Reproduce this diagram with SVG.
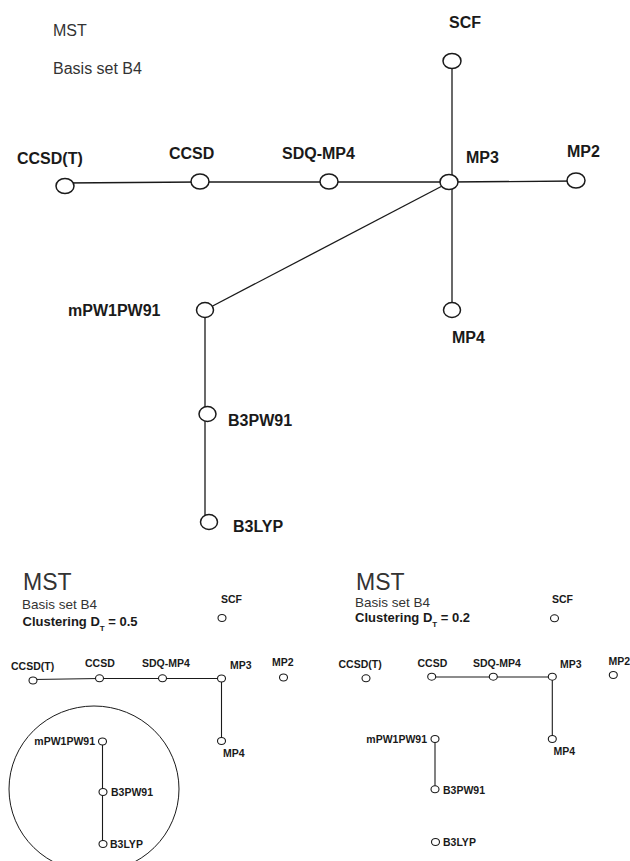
<svg xmlns="http://www.w3.org/2000/svg" width="630" height="861" viewBox="0 0 630 861">
<style>
  .bg{fill:#ffffff}
  .t{font-family:"Liberation Sans",Arial,sans-serif;fill:#333333}
  .b{font-family:"Liberation Sans",Arial,sans-serif;font-weight:bold;fill:#1a1a1a}
  .L{font-size:16px}
  .S{font-size:10.5px}
  .e{stroke:#1a1a1a;stroke-width:1.3;fill:none}
  .es{stroke:#1a1a1a;stroke-width:1.1;fill:none}
  .n{fill:#ffffff;stroke:#1a1a1a;stroke-width:1.5}
  .ns{fill:#ffffff;stroke:#1a1a1a;stroke-width:1.1}
  .cl{fill:none;stroke:#1a1a1a;stroke-width:1}
</style>
<rect class="bg" x="0" y="0" width="630" height="861"/>

<!-- ===== Top panel ===== -->
<g id="top-titles">
  <text class="t" x="53" y="36" font-size="16">MST</text>
  <text class="t" x="53" y="74" font-size="16">Basis set B4</text>
</g>
<g id="top-connectors">
  <line class="e" x1="64" y1="183" x2="200" y2="182"/>
  <line class="e" x1="200" y1="182" x2="329" y2="182"/>
  <line class="e" x1="329" y1="182" x2="449" y2="182"/>
  <line class="e" x1="449" y1="182" x2="576" y2="181"/>
  <line class="e" x1="452" y1="61" x2="452" y2="310"/>
  <line class="e" x1="446" y1="184" x2="205" y2="310"/>
  <line class="e" x1="205" y1="310" x2="205" y2="414"/>
  <line class="e" x1="205" y1="414" x2="205" y2="522"/>
</g>
<g id="top-n-scf"><ellipse class="n" cx="452" cy="61" rx="9" ry="7.5"/><text class="b L" x="449" y="28">SCF</text></g>
<g id="top-n-ccsdt"><ellipse class="n" cx="65" cy="186" rx="9" ry="7.5"/><text class="b L" x="17" y="164">CCSD(T)</text></g>
<g id="top-n-ccsd"><ellipse class="n" cx="200" cy="181.5" rx="9" ry="7.5"/><text class="b L" x="169" y="159">CCSD</text></g>
<g id="top-n-sdq"><ellipse class="n" cx="329" cy="181.5" rx="9" ry="7.5"/><text class="b L" x="282" y="159">SDQ-MP4</text></g>
<g id="top-n-mp3"><ellipse class="n" cx="449" cy="182" rx="9" ry="7.5"/><text class="b L" x="466" y="163">MP3</text></g>
<g id="top-n-mp2"><ellipse class="n" cx="576" cy="180.5" rx="9" ry="7.5"/><text class="b L" x="567" y="157">MP2</text></g>
<g id="top-n-mp4"><ellipse class="n" cx="452" cy="310" rx="8.5" ry="7.5"/><text class="b L" x="452" y="343">MP4</text></g>
<g id="top-n-mpw"><ellipse class="n" cx="205" cy="310" rx="8.5" ry="7.5"/><text class="b L" x="68" y="316">mPW1PW91</text></g>
<g id="top-n-b3pw"><ellipse class="n" cx="207.5" cy="414" rx="8.5" ry="7.5"/><text class="b L" x="228" y="426">B3PW91</text></g>
<g id="top-n-b3lyp"><ellipse class="n" cx="209" cy="522" rx="8.5" ry="7.5"/><text class="b L" x="233" y="532">B3LYP</text></g>

<!-- ===== Bottom-left panel ===== -->
<g id="bl-titles">
  <text class="t" x="23" y="590" font-size="23">MST</text>
  <text class="t" x="22" y="609" font-size="13.5">Basis set B4</text>
  <text class="b" x="22.5" y="625.5" font-size="13">Clustering D<tspan font-size="8" dy="5">T</tspan><tspan dy="-5"> = 0.5</tspan></text>
</g>
<g id="bl-connectors">
  <line class="es" x1="33" y1="679.5" x2="99.5" y2="678.5"/>
  <line class="es" x1="99.5" y1="678.5" x2="162.5" y2="678.5"/>
  <line class="es" x1="162.5" y1="678.5" x2="221.5" y2="678.5"/>
  <line class="es" x1="221.5" y1="678.5" x2="221.5" y2="741"/>
  <line class="es" x1="102.5" y1="741.5" x2="102.5" y2="844"/>
</g>
<g id="bl-cluster"><ellipse class="cl" cx="94" cy="789" rx="85" ry="83"/></g>
<g id="bl-n-scf"><ellipse class="ns" cx="222" cy="618" rx="4" ry="3.5"/><text class="b S" x="221" y="603">SCF</text></g>
<g id="bl-n-ccsdt"><ellipse class="ns" cx="33" cy="680.5" rx="4" ry="3.5"/><text class="b S" x="11" y="669.5">CCSD(T)</text></g>
<g id="bl-n-ccsd"><ellipse class="ns" cx="99.5" cy="678.3" rx="4" ry="3.5"/><text class="b S" x="85" y="667">CCSD</text></g>
<g id="bl-n-sdq"><ellipse class="ns" cx="162.5" cy="678.3" rx="4" ry="3.5"/><text class="b S" x="142" y="667">SDQ-MP4</text></g>
<g id="bl-n-mp3"><ellipse class="ns" cx="221.5" cy="678.5" rx="4" ry="3.5"/><text class="b S" x="230" y="669">MP3</text></g>
<g id="bl-n-mp2"><ellipse class="ns" cx="283.5" cy="677.5" rx="4" ry="3.5"/><text class="b S" x="272" y="666">MP2</text></g>
<g id="bl-n-mp4"><ellipse class="ns" cx="221.5" cy="741" rx="4" ry="3.5"/><text class="b S" x="223" y="757">MP4</text></g>
<g id="bl-n-mpw"><ellipse class="ns" cx="102.5" cy="741.5" rx="4" ry="3.5"/><text class="b S" x="95" y="745" text-anchor="end">mPW1PW91</text></g>
<g id="bl-n-b3pw"><ellipse class="ns" cx="103" cy="792" rx="4" ry="3.5"/><text class="b S" x="111" y="796">B3PW91</text></g>
<g id="bl-n-b3lyp"><ellipse class="ns" cx="103" cy="844" rx="4" ry="3.5"/><text class="b S" x="110" y="848">B3LYP</text></g>

<!-- ===== Bottom-right panel ===== -->
<g id="br-titles">
  <text class="t" x="356" y="589.5" font-size="23">MST</text>
  <text class="t" x="355" y="606.7" font-size="13.5">Basis set B4</text>
  <text class="b" x="355" y="622.3" font-size="13">Clustering D<tspan font-size="8" dy="5">T</tspan><tspan dy="-5"> = 0.2</tspan></text>
</g>
<g id="br-connectors">
  <line class="es" x1="431.7" y1="677" x2="493.3" y2="677"/>
  <line class="es" x1="493.3" y1="677" x2="552.3" y2="677"/>
  <line class="es" x1="552.3" y1="677" x2="552.3" y2="739"/>
  <line class="es" x1="435" y1="739" x2="435" y2="789.3"/>
</g>
<g id="br-n-scf"><ellipse class="ns" cx="554.5" cy="618.3" rx="4" ry="3.5"/><text class="b S" x="552" y="603">SCF</text></g>
<g id="br-n-ccsdt"><ellipse class="ns" cx="366" cy="678.3" rx="4" ry="3.5"/><text class="b S" x="338.5" y="668">CCSD(T)</text></g>
<g id="br-n-ccsd"><ellipse class="ns" cx="431.7" cy="676.7" rx="4" ry="3.5"/><text class="b S" x="417.5" y="666.7">CCSD</text></g>
<g id="br-n-sdq"><ellipse class="ns" cx="493.3" cy="676.7" rx="4" ry="3.5"/><text class="b S" x="473" y="666.7">SDQ-MP4</text></g>
<g id="br-n-mp3"><ellipse class="ns" cx="552.3" cy="676.7" rx="4" ry="3.5"/><text class="b S" x="560" y="668.3">MP3</text></g>
<g id="br-n-mp2"><ellipse class="ns" cx="613.3" cy="675" rx="4" ry="3.5"/><text class="b S" x="608.5" y="665.3">MP2</text></g>
<g id="br-n-mp4"><ellipse class="ns" cx="552.3" cy="739" rx="4" ry="3.5"/><text class="b S" x="553.5" y="755">MP4</text></g>
<g id="br-n-mpw"><ellipse class="ns" cx="435" cy="739" rx="4" ry="3.5"/><text class="b S" x="427" y="742.5" text-anchor="end">mPW1PW91</text></g>
<g id="br-n-b3pw"><ellipse class="ns" cx="435" cy="789.3" rx="4" ry="3.5"/><text class="b S" x="443" y="793.5">B3PW91</text></g>
<g id="br-n-b3lyp"><ellipse class="ns" cx="435.5" cy="842" rx="4" ry="3.5"/><text class="b S" x="443" y="846">B3LYP</text></g>
</svg>
